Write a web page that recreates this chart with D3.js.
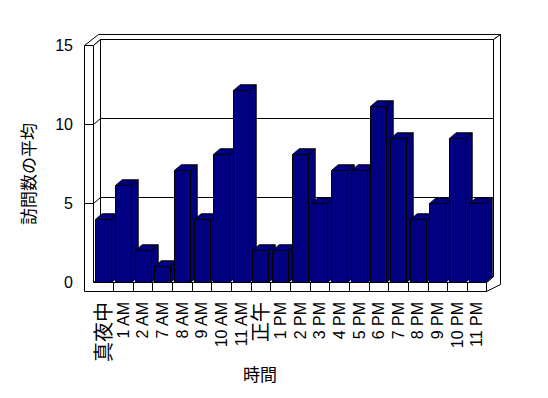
<!DOCTYPE html>
<html>
<head>
<meta charset="utf-8">
<script src="https://cdn.jsdelivr.net/npm/d3@7"></script>
<style>
  body { margin: 0; background: #fff; }
  svg { display: block; }
</style>
</head>
<body>
<div id="chart"></div>
<script>
// chart data
const hours = ["真夜中", "1 AM", "2 AM", "7 AM", "8 AM", "9 AM", "10 AM", "11 AM", "正午", "1 PM",
               "2 PM", "3 PM", "4 PM", "5 PM", "6 PM", "7 PM", "8 PM", "9 PM", "10 PM", "11 PM"];
const visits = [4, 6.15, 2, 1, 7.1, 4, 8.1, 12.15, 2, 2, 8.1, 5, 7.1, 7.1, 11.15, 9.1, 4, 5, 9.1, 5];
const yTicks = [0, 5, 10, 15];
const gridValues = [5, 10];
const yTitle = "訪問数の平均";
const xTitle = "時間";

const width = 548, height = 398;
const font = "'Liberation Sans', Arial, 'Noto Sans CJK JP', sans-serif";

// 3d box geometry
let x0 = 93.5, x1 = 486.5;      // inner plot edges at the front
let wallOuter = 84.5;           // outer edge of left wall
let floorBottom = 291.5;
let depth = {x: 7, y: -6};      // plot depth
let wall = {x: 7, y: -5};       // back wall thickness
let barDepth = {x: 6.7, y: -5.7};

let svg = d3.select("#chart")
            .append("svg")
                .attr("width", width)
                .attr("height", height);

let y = d3.scaleLinear().domain([0, 15]).range([282.5, 45.5]);
let x = d3.scaleBand().domain(hours).range([x0, x1]).paddingInner(0.18).paddingOuter(0.09);

let yBase = y(0), yTop = y(15);
// snap horizontal lines to the pixel grid
let crisp = v => Math.floor(v) + 0.5;

function poly(points) {
    return "M" + points.map(p => p[0] + "," + p[1]).join("L") + "Z";
}

let box = svg.append("g")
             .attr("fill", "#fff")
             .attr("stroke", "#000")
             .attr("stroke-width", 1);

// top face of left + back wall
box.append("path")
    .attr("d", poly([
        [wallOuter, yTop], [x0, yTop],
        [x0 + depth.x, yTop + depth.y], [x1 + depth.x, yTop + depth.y],
        [x1 + depth.x + wall.x, yTop + depth.y + wall.y],
        [wallOuter + depth.x + wall.x, yTop + depth.y + wall.y]
    ]));

// right side of back wall and floor
box.append("path")
    .attr("d", poly([
        [x1, yBase], [x1 + depth.x, yBase + depth.y],
        [x1 + depth.x, yTop + depth.y],
        [x1 + depth.x + wall.x, yTop + depth.y + wall.y],
        [x1 + depth.x + wall.x, floorBottom - 7],
        [x1, floorBottom]
    ]));

// back wall
box.append("rect")
    .attr("x", x0 + depth.x)
    .attr("y", yTop + depth.y)
    .attr("width", x1 - x0)
    .attr("height", yBase - yTop);

// gridlines on back wall
box.selectAll(".grid")
    .data(gridValues)
    .enter()
    .append("line")
        .attr("class", "grid")
        .attr("x1", x0 + depth.x)
        .attr("x2", x1 + depth.x)
        .attr("y1", d => crisp(y(d) + depth.y))
        .attr("y2", d => crisp(y(d) + depth.y));

// floor top
box.append("path")
    .attr("d", poly([
        [x0, yBase], [x1, yBase],
        [x1 + depth.x, yBase + depth.y], [x0 + depth.x, yBase + depth.y]
    ]));

// inner face of left wall
box.append("path")
    .attr("d", poly([
        [x0, yTop], [x0 + depth.x, yTop + depth.y],
        [x0 + depth.x, yBase + depth.y], [x0, yBase]
    ]));

box.selectAll(".sidetick")
    .data(gridValues)
    .enter()
    .append("line")
        .attr("class", "sidetick")
        .attr("x1", x0)
        .attr("x2", x0 + depth.x)
        .attr("y1", d => crisp(y(d)))
        .attr("y2", d => crisp(y(d) + depth.y));

// front of left wall and floor
box.append("path")
    .attr("d", poly([
        [wallOuter, yTop], [x0, yTop], [x0, yBase],
        [x1, yBase], [x1, floorBottom], [wallOuter, floorBottom]
    ]));

box.selectAll(".fronttick")
    .data(gridValues)
    .enter()
    .append("line")
        .attr("class", "fronttick")
        .attr("x1", wallOuter)
        .attr("x2", x0)
        .attr("y1", d => crisp(y(d)))
        .attr("y2", d => crisp(y(d)));

// category dividers on floor front
box.selectAll(".divider")
    .data(hours.slice(1))
    .enter()
    .append("line")
        .attr("class", "divider")
        .attr("x1", (d, i) => Math.round(x0 + (i + 1) * x.step()) + 0.5)
        .attr("x2", (d, i) => Math.round(x0 + (i + 1) * x.step()) + 0.5)
        .attr("y1", yBase)
        .attr("y2", floorBottom);

// bars, left to right so each one covers the side of the previous
let bars = svg.append("g")
              .attr("fill", "#000080")
              .attr("stroke", "#000")
              .attr("stroke-width", 1)
              .selectAll(".bar")
              .data(hours.map((h, i) => ({hour: h, value: visits[i]})))
              .enter()
              .append("g")
                  .attr("class", "bar");

let bx = d => Math.round(x(d.hour)) + 0.5;
let by = d => crisp(y(d.value));
let bw = Math.round(x.bandwidth());

bars.append("path")
    .attr("d", d => poly([
        [bx(d) + bw, by(d)], [bx(d) + bw + barDepth.x, by(d) + barDepth.y],
        [bx(d) + bw + barDepth.x, yBase + barDepth.y], [bx(d) + bw, yBase]
    ]));

bars.append("path")
    .attr("d", d => poly([
        [bx(d), by(d)], [bx(d) + bw, by(d)],
        [bx(d) + bw + barDepth.x, by(d) + barDepth.y], [bx(d) + barDepth.x, by(d) + barDepth.y]
    ]));

bars.append("rect")
    .attr("x", bx)
    .attr("y", by)
    .attr("width", bw)
    .attr("height", d => yBase - by(d));

// y tick labels
svg.append("g")
    .selectAll("text")
    .data(yTicks)
    .enter()
    .append("text")
        .attr("x", 73)
        .attr("y", d => y(d))
        .attr("dy", "0.36em")
        .attr("text-anchor", "end")
        .style("font-family", font)
        .style("font-size", "16px")
        .text(d => d);

// category labels, rotated
svg.append("g")
    .selectAll("text")
    .data(hours)
    .enter()
    .append("text")
        .attr("transform", d => `translate(${x(d) + x.bandwidth() / 2}, 302) rotate(-90)`)
        .attr("dy", "0.36em")
        .attr("text-anchor", "end")
        .style("font-family", font)
        .style("font-size", d => /[^\x00-\x7F]/.test(d) ? "20px" : "16px")
        .text(d => d);

// axis titles
svg.append("text")
    .attr("transform", "translate(28.5, 174) rotate(-90)")
    .attr("dy", "0.38em")
    .attr("text-anchor", "middle")
    .style("font-family", font)
    .style("font-size", "17px")
    .text(yTitle);

svg.append("text")
    .attr("x", 260)
    .attr("y", 375)
    .attr("dy", "0.38em")
    .attr("text-anchor", "middle")
    .style("font-family", font)
    .style("font-size", "17px")
    .text(xTitle);
</script>
</body>
</html>
